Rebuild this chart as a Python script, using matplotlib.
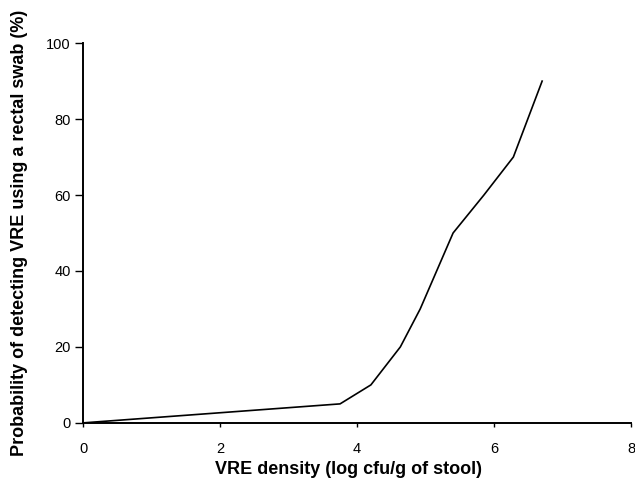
import numpy as np
import matplotlib.pyplot as plt

plt.rcParams['font.family'] = ['Liberation Sans', 'DejaVu Sans']

# VRE density (log cfu/g) vs detection probability (%)
density = [0, 3.75, 4.2, 4.63, 4.92, 5.4, 5.85, 6.28, 6.7]
probability = [0, 5, 10, 20, 30, 50, 60, 70, 90]

x_ticks = [0, 2, 4, 6, 8]
y_ticks = [0, 20, 40, 60, 80, 100]

fig = plt.figure(figsize=(6.35, 4.9), dpi=100)
ax = fig.add_axes([0.131, 0.137, 0.863, 0.775])

ax.plot(density, probability, color='black', linewidth=1.2)

ax.set_xlim(0, 8)
ax.set_ylim(0, 100)
ax.set_xticks(x_ticks)
ax.set_yticks(y_ticks)
ax.spines['top'].set_visible(False)
ax.spines['right'].set_visible(False)
ax.spines['left'].set_linewidth(1.4)
ax.spines['bottom'].set_linewidth(1.4)
ax.tick_params(axis='x', direction='out', length=3, width=1, labelsize=10.5, pad=11)
ax.tick_params(axis='y', direction='out', length=6, width=1, labelsize=10.5, pad=3)

ax.set_xlabel('VRE density (log cfu/g of stool)', fontsize=13, fontweight='bold')
ax.set_ylabel('Probability of detecting VRE using a rectal swab (%)', fontsize=13,
              fontweight='bold')
ax.xaxis.set_label_coords(0.484, -0.1)
ax.yaxis.set_label_coords(-0.1, 0.5)

fig.savefig('out.png', dpi=100)
